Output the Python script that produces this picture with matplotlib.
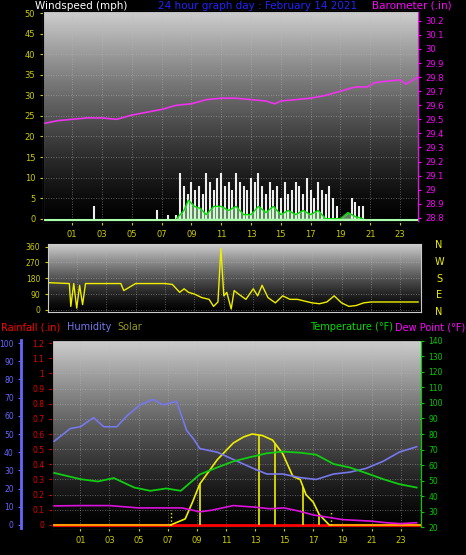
import numpy as np
import matplotlib
matplotlib.use('Agg')
import matplotlib.pyplot as plt

# ---- data ----
baro_h = [-0.9, 0, 1, 2, 3, 4, 5, 6, 7, 8, 9, 10, 11, 12, 13, 14, 14.6, 15, 16, 17, 18, 19, 20, 20.8, 21.3, 22, 23, 23.4, 24.2]
baro_v = [29.47, 29.49, 29.50, 29.51, 29.51, 29.50, 29.53, 29.55, 29.57, 29.60, 29.61, 29.64, 29.65, 29.65, 29.64, 29.63, 29.61,
          29.63, 29.64, 29.65, 29.67, 29.70, 29.73, 29.73, 29.76, 29.77, 29.78, 29.75, 29.80]

gust_h = [2.5, 6.7, 7.4] + list(np.arange(8.0, 20.6, 0.25))
gust_v = [3, 2, 1,
          1, 11, 8, 6, 9, 7, 8, 6, 11, 9, 7, 10, 11, 8, 9, 7, 11, 9, 8, 7, 10, 9, 11, 8, 6, 9, 7, 8, 5,
          9, 6, 7, 9, 8, 6, 10, 7, 5, 9, 7, 6, 8, 5, 3, 0, 0, 0, 5, 4, 3, 3]
avg_h = [8.0, 8.5, 8.8, 9.2, 9.6, 10.0, 10.5, 11.0, 11.5, 12.0, 12.5, 13.0, 13.5, 14.0, 14.5, 15.0, 15.5,
         16.0, 16.5, 17.0, 17.5, 18.0, 18.5, 19.0, 19.5, 20.0, 20.5]
avg_v = [0, 2, 4.5, 3, 2.5, 1, 3, 3, 2, 3, 1, 1, 3, 1.5, 3, 1, 2, 1, 2, 1, 2, 0, 0, 0, 1.5, 0.5, 0]

dir_h = [-0.9, 0.5, 0.6, 0.8, 1.0, 1.2, 1.4, 1.6, 2.0, 3.0, 4.0, 4.2, 5.0, 6.0, 7.0, 7.5, 8.0, 8.3, 8.6, 9.0, 9.5,
         10.0, 10.3, 10.6, 10.8, 11.0, 11.2, 11.5, 11.7, 12.0, 12.5, 13.0, 13.3, 13.6, 14.0, 14.5, 15.0, 15.5,
         16.0, 16.5, 17.0, 17.5, 18.0, 18.5, 19.0, 19.5, 20.0, 20.5, 21.0, 22.0, 23.0, 24.2]
dir_v = [155, 150, 20, 150, 10, 140, 30, 150, 150, 150, 150, 110, 150, 150, 150, 145, 100, 120, 100, 90, 70,
         60, 20, 45, 350, 80, 100, 5, 110, 90, 60, 120, 80, 140, 70, 40, 80, 60,
         60, 50, 40, 35, 45, 80, 40, 20, 25, 40, 45, 45, 45, 45]

hum_h = [-0.8, 0.3, 1.0, 1.9, 2.6, 3.5, 4.2, 5.1, 6.0, 6.7, 7.6, 8.3, 8.8, 9.2, 10.4, 11.5, 12.9, 13.8, 14.9,
         16.1, 17.2, 18.4, 19.5, 20.6, 21.8, 22.9, 24.1]
hum_v = [46, 53, 54, 59, 54, 54, 60, 66, 69, 66, 68, 52, 47, 42, 40, 36, 31, 28, 28,
         26, 25, 28, 29, 31, 35, 40, 43]

temp_h = [-0.8, 1.0, 2.2, 3.3, 4.7, 5.8, 6.9, 7.9, 9.2, 10.4, 11.5, 12.6, 13.8, 14.9, 16.1, 17.2, 18.4, 19.5,
          20.6, 21.8, 22.9, 24.1]
temp_v = [55, 51, 49.5, 51.7, 45.6, 43.5, 45, 43.5, 54, 58.5, 62.4, 65, 67.6, 68.7, 68, 66.7, 60.7, 58.5,
          55, 51, 47.8, 45.6]

dew_h = [-0.8, 1, 3, 5, 7, 8, 9.2, 10, 11.5, 13, 14, 15, 16, 17, 18, 19, 20, 21, 22, 23, 24.1]
dew_v = [33.8, 34, 34, 32.5, 32.5, 32.5, 30, 31, 34, 33, 32, 32.5, 30.5, 28, 26.5, 25, 24.5, 24, 23, 22.4, 23]

sol_h = [7.2, 8.2, 8.7, 9.2, 10.4, 11.5, 12.2, 12.8, 13.5, 14.2, 14.9, 15.6, 16.1, 16.5, 17.0, 17.4, 18.1]
sol_v = [0, 0.04, 0.15, 0.27, 0.43, 0.54, 0.58, 0.60, 0.59, 0.56, 0.47, 0.32, 0.30, 0.20, 0.15, 0.07, 0]
sol_bars = [9.2, 13.3, 14.4, 16.3, 17.4]
sol_dots = [7.2, 18.2]

hour_ticks = list(range(1, 24, 2))
hour_labels = ['%02d' % h for h in hour_ticks]

W, H = 466, 555
fig = plt.figure(figsize=(W / 100, H / 100), dpi=100, facecolor='black')


def px(l, t, r, b):
    return [l / W, 1 - b / H, (r - l) / W, (b - t) / H]


def backdrop(ax):
    grad = (np.linspace(0.85, 0.0, 200) ** 1.3).reshape(-1, 1)
    ax.imshow(grad, extent=[0, 1, 0, 1], transform=ax.transAxes, aspect='auto',
              cmap='gray', vmin=0, vmax=1, zorder=0)
    ax.set_facecolor('black')
    ax.grid(True, color='#bbbbbb', ls=(0, (1, 2)), lw=0.6, alpha=0.6)
    for s in ax.spines.values():
        s.set_color('#cccccc')


def style_x(ax, xmax):
    ax.set_xlim(-0.95, xmax)
    ax.set_xticks(hour_ticks)
    ax.set_xticklabels(hour_labels)
    ax.tick_params(axis='x', colors='#cccc00', labelsize=6, length=2)


# ---- top panel: wind + barometer ----
ax1 = fig.add_axes(px(43, 11, 418, 222))
backdrop(ax1)
style_x(ax1, 24.2)
ax1.set_ylim(-0.8, 50.5)
ax1.set_yticks(range(0, 51, 5))
ax1.tick_params(axis='y', colors='#cccc00', labelsize=6, length=2)
ax1.vlines(gust_h, 0, gust_v, color='#eeeeee', lw=1.5, zorder=3)
ax1.fill_between(avg_h, 0, avg_v, color='#bbffbb', alpha=0.5, zorder=3)
ax1.plot(avg_h, avg_v, color='#00dd00', lw=1, zorder=4)
ax1.axhline(-0.3, color='#aaffaa', lw=1.5, zorder=4)
ax1b = ax1.twinx()
ax1b.set_ylim(28.77, 30.27)
ax1b.set_yticks(np.round(np.arange(28.8, 30.21, 0.1), 1))
ax1b.set_yticklabels(['%g' % v for v in np.round(np.arange(28.8, 30.21, 0.1), 1)])
ax1b.tick_params(axis='y', colors='#ff00ff', labelsize=6, length=2)
ax1b.spines['right'].set_color('#ff00ff')
ax1b.plot(baro_h, baro_v, color='#ee33ee', lw=1.2)

fig.text(35 / W, 1 - 6 / H, 'Windspeed (mph)', color='white', fontsize=7.5, va='center')
fig.text(258 / W, 1 - 6 / H, '24 hour graph day : February 14 2021', color='#2222ff', fontsize=7.5,
         va='center', ha='center')
fig.text(372 / W, 1 - 6 / H, 'Barometer (.in)', color='#ff00ff', fontsize=7.5, va='center')

# ---- middle panel: wind direction ----
ax2 = fig.add_axes(px(48, 244, 421, 312))
backdrop(ax2)
ax2.set_xlim(-0.95, 24.4)
ax2.set_xticks(hour_ticks)
ax2.tick_params(axis='x', length=0, labelbottom=False)
ax2.set_ylim(-12, 375)
ax2.set_yticks([0, 90, 180, 270, 360])
ax2.tick_params(axis='y', colors='#cccc00', labelsize=5.5, length=2)
ax2.plot(dir_h, dir_v, color='#eeee00', lw=1)
for i, c in enumerate('NWSEN'):
    fig.text(439 / W, 1 - (245 + i * 16.8) / H, c, color='#eeee00', fontsize=7, va='center', ha='center')

# ---- bottom panel: rain, humidity, solar, temperature, dew point ----
ax3 = fig.add_axes(px(52, 340, 421, 528))
backdrop(ax3)
style_x(ax3, 24.4)
ax3.set_ylim(-0.02, 1.22)
ax3.set_yticks(np.round(np.arange(0, 1.21, 0.1), 1))
ax3.set_yticklabels(['0'] + ['%g' % v for v in np.round(np.arange(0.1, 1.21, 0.1), 1)])
ax3.tick_params(axis='y', colors='#dd0000', labelsize=5.5, length=2)
ax3.spines['left'].set_color('#ff3333')
ax3.axhline(0, color='#ff0000', lw=2, zorder=3)
ax3.plot([-0.95, 7.2], [0.002, 0.002], color='#ff9900', lw=1.5, zorder=3)
ax3.plot([18.2, 24.4], [0.002, 0.002], color='#ff9900', lw=1.5, zorder=3)
ax3.plot(sol_h, sol_v, color='#eeee00', lw=1.2, zorder=4)
ax3.vlines(sol_bars, 0, np.interp(sol_bars, sol_h, sol_v), color='#eeee00', lw=1.2, zorder=4)
ax3.vlines(sol_dots, 0, 0.1, color='#eeee00', lw=1, ls=':', zorder=4)

axh = ax3.twinx()
axh.spines['left'].set_position(('outward', 22))
axh.spines['left'].set_visible(True)
axh.spines['left'].set_color('#6666ff')
axh.spines['left'].set_linewidth(2)
axh.spines['right'].set_visible(False)
axh.yaxis.set_label_position('left')
axh.yaxis.tick_left()
axh.set_ylim(-1.7, 101.7)
axh.set_yticks(range(0, 101, 10))
axh.tick_params(axis='y', colors='#6666ff', labelsize=5.5, length=2)
axh.plot(hum_h, hum_v, color='#7777ee', lw=1.2)

axt = ax3.twinx()
axt.set_ylim(19.6, 140.4)
axt.set_yticks(range(20, 141, 10))
axt.tick_params(axis='y', colors='#00cc00', labelsize=5.5, length=2)
axt.spines['right'].set_color('#00cc00')
axt.plot(temp_h, temp_v, color='#11cc11', lw=1.3)
axt.plot(dew_h, dew_v, color='#dd11dd', lw=1.2)

y_leg = 1 - 327 / H
fig.text(1 / W, y_leg, 'Rainfall (.in)', color='#ff0000', fontsize=7, va='center')
fig.text(67 / W, y_leg, 'Humidity', color='#7777ee', fontsize=7, va='center')
fig.text(117 / W, y_leg, 'Solar', color='#999922', fontsize=7, va='center')
fig.text(393 / W, y_leg, 'Temperature (°F)', color='#00dd00', fontsize=7, va='center', ha='right')
fig.text(395 / W, y_leg, 'Dew Point (°F)', color='#ff00ff', fontsize=7, va='center')

fig.savefig('out.png', dpi=100, facecolor='black')
